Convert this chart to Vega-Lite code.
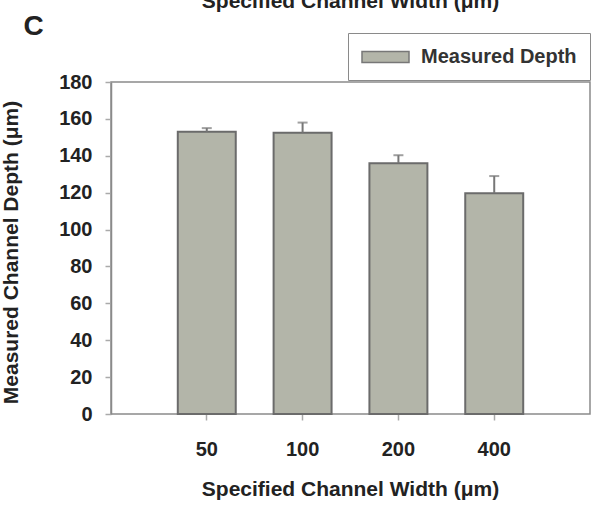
{
  "$schema": "https://vega.github.io/schema/vega-lite/v6.json",
  "width": 479,
  "height": 332,
  "autosize": {"type": "none"},
  "padding": {"left": 111, "top": 82, "right": 1, "bottom": 91},
  "background": "white",
  "config": {
    "font": "Liberation Sans",
    "view": {"stroke": "#8a8a8a", "strokeWidth": 1.5},
    "axis": {"grid": false}
  },
  "data": {
    "values": [
      {"w": "50", "depth": 153, "upper": 155, "series": "Measured Depth"},
      {"w": "100", "depth": 152.5, "upper": 158, "series": "Measured Depth"},
      {"w": "200", "depth": 136, "upper": 140.3, "series": "Measured Depth"},
      {"w": "400", "depth": 119.7, "upper": 129, "series": "Measured Depth"}
    ]
  },
  "resolve": {"axis": {"x": "independent", "y": "independent"}},
  "layer": [
    {
      "mark": {"type": "bar", "stroke": "#6b6b6b", "strokeWidth": 2},
      "encoding": {
        "x": {
          "field": "w", "type": "nominal", "sort": ["50", "100", "200", "400"],
          "scale": {"paddingInner": 0.395, "paddingOuter": 0.697},
          "axis": {
            "orient": "bottom", "labelAngle": 0, "domain": false,
            "tickSize": 6, "tickColor": "#aaaaaa", "tickWidth": 1.5,
            "labelFontSize": 20, "labelFontWeight": "bold", "labelColor": "#222222",
            "labelBaseline": "alphabetic", "labelPadding": 35,
            "title": "Specified Channel Width (μm)", "titleFontSize": 21, "titleFontWeight": "bold",
            "titleColor": "#222222", "titleX": 239, "titleY": 81, "titleBaseline": "alphabetic", "titleAlign": "center"
          }
        },
        "y": {
          "field": "depth", "type": "quantitative",
          "scale": {"domain": [0, 180], "nice": false},
          "axis": {
            "orient": "left", "values": [0, 20, 40, 60, 80, 100, 120, 140, 160, 180],
            "domainColor": "#8a8a8a", "domainWidth": 1.5,
            "tickSize": 6, "tickColor": "#aaaaaa", "tickWidth": 1.5,
            "labelFontSize": 20, "labelFontWeight": "bold", "labelColor": "#222222", "labelPadding": 13,
            "title": "Measured Channel Depth (μm)", "titleFontSize": 21, "titleFontWeight": "bold",
            "titleColor": "#222222", "titleX": -94, "titleY": 170, "titleAngle": -90,
            "titleBaseline": "alphabetic", "titleAlign": "center"
          }
        },
        "color": {
          "field": "series", "type": "nominal",
          "scale": {"range": ["#b3b5a9"]},
          "legend": {
            "title": null, "orient": "none", "legendX": 237, "legendY": -49,
            "symbolType": "M-1,-0.55H3.7V0.55H-1Z", "symbolSize": 400,
            "symbolStrokeColor": "#777777", "symbolStrokeWidth": 1.5,
            "labelFontSize": 20, "labelFontWeight": "bold", "labelColor": "#333333",
            "labelOffset": 38, "strokeColor": "#8a8a8a", "fillColor": "white", "padding": 13
          }
        }
      }
    },
    {
      "mark": {"type": "rule", "color": "#777777", "strokeWidth": 2},
      "encoding": {
        "x": {
          "field": "w", "type": "nominal", "sort": ["50", "100", "200", "400"],
          "scale": {"paddingInner": 0.395, "paddingOuter": 0.697},
          "axis": {
            "orient": "top", "labels": false, "ticks": false, "domain": false,
            "title": "Specified Channel Width (μm)", "titleFontSize": 21, "titleFontWeight": "bold",
            "titleColor": "#222222", "titleX": 239, "titleY": -75, "titleBaseline": "alphabetic", "titleAlign": "center"
          }
        },
        "y": {
          "field": "depth", "type": "quantitative",
          "scale": {"domain": [0, 180], "nice": false},
          "axis": {
            "orient": "right", "labels": false, "ticks": false, "domain": false,
            "title": "C", "titleFontSize": 28, "titleFontWeight": "bold", "titleColor": "#222222",
            "titleAngle": 0, "titleX": -567, "titleY": -48, "titleAlign": "left", "titleBaseline": "alphabetic"
          }
        },
        "y2": {"field": "upper"}
      }
    },
    {
      "mark": {"type": "tick", "color": "#777777", "thickness": 2, "size": 10},
      "encoding": {
        "x": {
          "field": "w", "type": "nominal", "sort": ["50", "100", "200", "400"],
          "scale": {"paddingInner": 0.395, "paddingOuter": 0.697},
          "axis": null
        },
        "y": {
          "field": "upper", "type": "quantitative",
          "scale": {"domain": [0, 180], "nice": false},
          "axis": null
        }
      }
    }
  ]
}
